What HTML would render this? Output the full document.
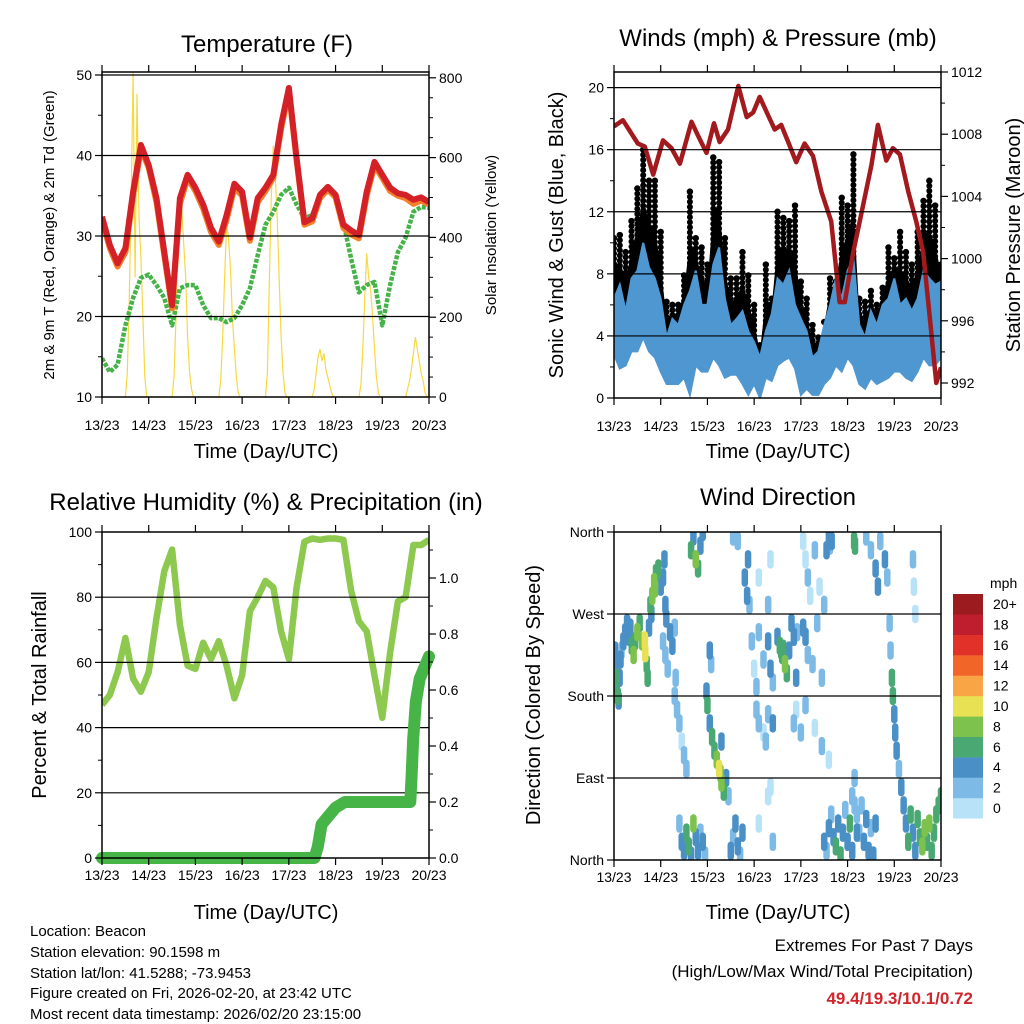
<!DOCTYPE html>
<html><head><meta charset="utf-8"><style>
html,body{margin:0;padding:0;background:#fff;}
svg{display:block;font-family:"Liberation Sans",sans-serif;}
</style></head><body>
<svg id="chart" width="1024" height="1024" viewBox="0 0 1024 1024" xmlns="http://www.w3.org/2000/svg">
<rect width="1024" height="1024" fill="#fff"/>
<text x="267" y="52" font-size="24" text-anchor="middle">Temperature (F)</text>
<text x="778" y="46" font-size="24" text-anchor="middle">Winds (mph) &amp; Pressure (mb)</text>
<text x="266" y="510" font-size="24" text-anchor="middle">Relative Humidity (%) &amp; Precipitation (in)</text>
<text x="778" y="505" font-size="24" text-anchor="middle">Wind Direction</text>
<text x="266" y="458" font-size="20" text-anchor="middle">Time (Day/UTC)</text>
<text x="778" y="458" font-size="20" text-anchor="middle">Time (Day/UTC)</text>
<text x="266" y="919" font-size="20" text-anchor="middle">Time (Day/UTC)</text>
<text x="778" y="919" font-size="20" text-anchor="middle">Time (Day/UTC)</text>
<text transform="translate(54,235) rotate(-90)" font-size="15" text-anchor="middle">2m &amp; 9m T (Red, Orange) &amp; 2m Td (Green)</text>
<text transform="translate(496,235) rotate(-90)" font-size="15" text-anchor="middle">Solar Insolation (Yellow)</text>
<text transform="translate(563,235) rotate(-90)" font-size="20" text-anchor="middle">Sonic Wind &amp; Gust (Blue, Black)</text>
<text transform="translate(1020,235) rotate(-90)" font-size="20" text-anchor="middle">Station Pressure (Maroon)</text>
<text transform="translate(46,695) rotate(-90)" font-size="20" text-anchor="middle">Percent &amp; Total Rainfall</text>
<text transform="translate(540,695) rotate(-90)" font-size="20" text-anchor="middle">Direction (Colored By Speed)</text>
<g font-size="15">
<text x="30" y="936">Location: Beacon</text>
<text x="30" y="957">Station elevation: 90.1598 m</text>
<text x="30" y="978">Station lat/lon: 41.5288; -73.9453</text>
<text x="30" y="998">Figure created on Fri, 2026-02-20, at 23:42 UTC</text>
<text x="30" y="1019">Most recent data timestamp: 2026/02/20 23:15:00</text>
</g>
<g text-anchor="end">
<text x="973" y="951" font-size="17">Extremes For Past 7 Days</text>
<text x="973" y="977" font-size="17">(High/Low/Max Wind/Total Precipitation)</text>
<text x="973" y="1004" font-size="17" font-weight="bold" fill="#d0262b">49.4/19.3/10.1/0.72</text>
</g>
</svg>
<script>
// ---- data ----
const dayLabels = ["13/23","14/23","15/23","16/23","17/23","18/23","19/23","20/23"];
// 4-hour step temperature (F)
const temp2m = [32.4,28.9,26.6,28.5,35.5,41.3,38.8,34.7,28,21.4,34.7,37.6,36,33.9,31,29.3,32.6,36.5,35.5,29.8,34.7,36,37.6,43.8,48.4,39.7,31.7,32.2,35.1,36.1,35.1,31.4,30.7,30.1,35.5,39.2,37.6,36,35.3,35.1,34.5,34.8,34.2];
const temp9m = [32,28.5,26.2,28,35,40.8,38.5,34.2,27.6,21,34,37.2,35.6,33.4,30.5,28.9,32,36,35,29.4,34.2,35.6,37.2,43.3,48,39.4,31.4,31.8,34.7,35.8,34.8,31,30.2,29.7,35,38.8,37.2,35.6,35,34.7,34,34.4,33.9];
const dewpoint = [14.8,13.1,14,18.9,22.3,24.8,25.2,23.9,22.3,18.9,23.5,23.9,23.9,21.4,19.8,19.8,19.3,19.8,21.4,23.5,27.6,31.4,33,35.1,36,33.9,32.2,32.6,35.1,35.5,35.1,31.7,27.2,23,23.9,24.3,18.9,23.9,28,29.8,33,33.6,33.5];
// hourly solar insolation, hours 12..23 UTC for each day
const solarDays = [
 [0,60,250,500,815,300,760,450,350,200,50,0],
 [0,50,200,420,510,470,380,300,150,60,20,0],
 [0,40,150,300,430,400,320,200,120,50,10,0],
 [0,60,300,500,630,560,450,300,150,60,10,0],
 [0,20,60,100,120,90,110,70,50,30,10,0],
 [0,30,120,250,360,300,270,200,120,50,10,0],
 [0,20,40,70,110,150,120,90,60,40,10,0]];
// 3-hour step wind (mph)
const gustMax = [10.3,10.5,9.4,11.4,13.5,16,14,14,10.7,6.2,6,6,7.9,13.3,10.3,9.7,8.6,15.5,15.2,10.3,7.7,7.7,9.4,7.9,6,3.4,8.6,6.4,12,11.6,11.4,12.4,7.5,6.4,4.7,3.9,4.9,7.7,7.5,12.9,12.4,15.7,6.4,6.2,6.9,6,7.1,9.7,9,10.7,9.4,8.6,10.7,12.7,14,12.4,8.6];
const windHigh = [6.4,7.3,5.6,7.7,8.2,10,8.4,7.7,6.4,3.9,5.1,4.7,6,6.9,8.2,6,6,8.6,9.7,6.4,4.7,5.1,5.6,4.3,3.6,2.6,4.3,5.4,7.7,7.3,8.2,6,5.1,4.3,2.6,3,4.7,6,7.7,6.4,8.2,9,4.7,3.9,5.6,4.7,6,6.4,7.7,6,6.4,5.6,6.4,8.2,7.7,7.3,7.5];
const windLow = [2.8,1.9,2.1,3,3,3.9,3,2.6,1.7,0.9,0.9,0.9,1.3,0.2,2.1,1.7,1.7,2.6,2.1,1.3,1.5,1.5,0.9,0.2,0.9,0,1.3,1.1,2.1,2.4,2.6,1.9,0.2,0.6,0.2,0.2,0.9,1.3,2.1,1.7,2.6,2.1,0.9,0.6,1.3,0.9,1.1,1.3,1.7,1.7,1.3,1.1,1.7,2.6,2.1,2.1,2.6];
const presDays = [0,0.19,0.34,0.51,0.66,0.84,1.05,1.23,1.41,1.66,1.8,1.98,2.14,2.26,2.44,2.66,2.84,2.98,3.12,3.3,3.44,3.58,3.73,3.9,4.08,4.26,4.44,4.65,4.83,4.94,5.12,5.33,5.51,5.65,5.83,5.97,6.12,6.3,6.47,6.62,6.76,6.9,7.0];
const pressure = [1008.5,1008.9,1008.2,1007.4,1007.2,1005.4,1007.6,1007.1,1006.1,1008.8,1007.9,1006.8,1008.7,1007.5,1008.3,1011.1,1009.1,1009.4,1010.4,1009.2,1008.3,1008.6,1007.5,1006.2,1007.4,1006.6,1004.3,1002.4,997.2,997.2,1000.4,1003.4,1006,1008.6,1006.3,1007.1,1006.7,1004.3,1002.4,1000.4,996.2,992,993];
// 4-hour step relative humidity (%)
const rh = [47,50,57,67.5,55,51,57,73.6,88,94.6,71.6,59,58,66,61,66.5,59,49,56,75.7,80,85,83,69.5,61,83,97,98,97.6,98,98,97.6,82,72.6,69.5,56,43,63,78.7,80,96,96,97.6];
const precipDays = [0,4.55,4.62,4.7,4.8,5.0,5.2,6.6,6.63,6.66,6.72,6.8,6.9,7.0];
const precip = [0,0,0.04,0.12,0.14,0.18,0.2,0.2,0.3,0.42,0.56,0.64,0.68,0.72];
// wind direction samples
const dirDays = [0.02,0.03,0.05,0.06,0.08,0.1,0.12,0.14,0.16,0.2,0.24,0.28,0.32,0.35,0.38,0.42,0.45,0.5,0.55,0.6,0.66,0.67,0.7,0.72,0.75,0.8,0.78,0.82,0.86,0.88,0.9,0.95,1.0,1.05,1.08,1.1,1.12,1.05,1.1,1.15,1.2,1.25,1.3,1.32,1.3,1.35,1.4,1.45,1.5,1.55,1.4,1.45,1.5,1.55,1.6,1.65,1.7,1.75,1.8,1.85,1.9,1.95,1.65,1.7,1.75,1.8,1.85,1.9,1.98,2.0,2.05,2.1,2.15,2.2,2.25,2.28,2.3,2.35,2.4,2.45,2.3,2.05,2.08,2.5,2.55,2.6,2.65,2.7,2.75,2.55,2.65,2.8,2.85,2.9,2.87,2.95,3.0,3.05,3.1,3.2,3.3,3.35,3.4,3.05,3.1,3.2,3.25,3.3,3.4,3.1,3.3,3.4,3.35,3.1,3.3,3.35,3.5,3.55,3.58,3.6,3.62,3.66,3.7,3.75,3.8,3.85,3.9,3.92,3.85,3.9,4.0,4.05,4.1,4.15,4.2,4.3,4.4,4.5,4.55,4.6,4.62,4.66,4.05,4.1,4.15,4.25,4.35,4.45,4.1,4.3,4.45,4.6,4.5,4.55,4.6,4.65,4.7,4.75,4.8,4.85,4.9,4.95,5.0,5.05,5.1,5.15,5.2,5.1,5.15,5.2,5.25,5.3,5.35,5.4,5.45,5.5,5.55,5.6,5.14,5.16,5.4,5.5,5.6,5.65,5.7,5.8,5.85,5.9,5.92,5.95,5.97,6.0,6.02,6.05,6.1,6.15,6.2,6.25,6.3,6.35,6.4,6.45,6.5,6.55,6.6,6.65,6.7,6.75,6.8,6.85,6.9,6.95,7.0,6.4,6.42,6.45];
const dirDeg = [230,215,200,190,180,175,200,220,230,240,250,260,245,255,235,225,240,250,260,240,241,227,215,200,255,270,280,290,305,298,315,320,300,310,330,280,265,240,225,210,250,235,255,200,180,165,150,130,115,100,40,20,10,30,15,5,40,25,10,30,20,5,340,355,330,320,345,360,185,170,150,135,120,110,100,95,85,75,90,70,130,230,215,10,25,40,15,5,30,355,350,310,290,280,330,240,210,190,250,220,240,210,195,165,150,140,130,160,150,40,70,20,80,310,280,330,245,235,230,225,232,215,205,230,260,245,200,250,150,165,140,350,330,310,290,340,300,280,340,355,345,350,255,245,225,215,260,200,170,145,125,110,20,10,35,50,25,15,40,5,30,55,20,40,10,60,30,70,90,50,30,60,20,45,10,35,5,40,350,345,355,340,320,300,350,330,310,260,230,200,180,160,140,120,100,80,60,40,20,50,30,10,45,25,15,35,20,40,10,30,50,60,70,330,300,270];
const dirSpeed = [4,4,6,4,6,4,4,4,2,4,4,4,4,4,6,8,6,8,6,8,10,10,6,6,4,4,6,8,8,8,6,6,4,4,4,4,4,2,2,2,4,4,2,2,2,2,2,0,2,2,2,4,4,6,6,4,8,4,4,2,4,2,6,4,8,6,4,4,4,6,4,6,6,8,10,8,8,6,4,2,4,4,2,4,2,4,4,2,4,2,2,4,4,2,4,2,0,2,2,2,4,4,2,2,2,0,2,2,4,0,0,2,0,0,2,0,4,6,6,6,6,8,6,4,4,4,4,2,2,0,2,0,0,2,0,2,0,2,4,4,2,4,4,4,2,2,2,2,2,0,2,0,4,2,4,2,4,6,4,6,4,2,4,6,4,2,4,2,2,2,2,2,4,4,4,2,4,4,6,6,2,2,4,4,2,4,2,2,2,6,6,4,4,4,2,4,4,4,6,6,4,4,6,6,8,8,6,8,6,6,6,6,6,2,0,0];
const speedLabels = ["0","2","4","6","8","10","12","14","16","18","20+"];
const speedColors = ["#b8e2f7","#7dbbe6","#4a90c7","#4aa872","#7dc24c","#e8e154","#f9a546","#f26529","#e03228","#be1e2d","#9b1b1e"];

// ---- drawing ----
const NS = "http://www.w3.org/2000/svg";
const svg = document.getElementById('chart');
function el(tag, attrs, parent){
  const e = document.createElementNS(NS, tag);
  for (const k in attrs) e.setAttribute(k, attrs[k]);
  (parent || svg).appendChild(e);
  return e;
}
function pts(arr){ return arr.map(p => p[0].toFixed(1)+","+p[1].toFixed(1)).join(" "); }

function makePanel(name, x0, x1, y0, y1){
  const g = el('g', {});
  
  
  const clip = el('clipPath', {id: name+'-clip'}, g);
  el('rect', {x:x0, y:y0, width:x1-x0, height:y1-y0}, clip);
  const plot = el('g', {'clip-path':'url(#'+name+'-clip)'}, g);
  return {g, plot, x0, x1, y0, y1, tx: d => x0 + d*(x1-x0)/7};
}
function frame(P, name, labOff){
  const r = el('rect', {x:P.x0, y:P.y0, width:P.x1-P.x0, height:P.y1-P.y0, fill:'none', stroke:'#000', 'stroke-width':1.5}, P.g);
  
  
  for (let i=0;i<dayLabels.length;i++){
    const x = P.tx(i);
    el('line', {x1:x, x2:x, y1:P.y1, y2:P.y1+7, stroke:'#000', 'stroke-width':1.2}, P.g);
    el('line', {x1:x, x2:x, y1:P.y0, y2:P.y0-7, stroke:'#000', 'stroke-width':1.2}, P.g);
    const t = el('text', {x:x, y:P.y1+labOff, 'font-size':14, 'text-anchor':'middle'}, P.g);
    
    
    t.textContent = dayLabels[i];
  }
}
function grid(P, ys){
  ys.forEach(y => el('line', {x1:P.x0, x2:P.x1, y1:y, y2:y, stroke:'#000', 'stroke-width':1.2}, P.g));
}
function yAxis(P, side, vals, fy, labels, minorVals, name){
  const x = side==='left' ? P.x0 : P.x1;
  const dir = side==='left' ? -1 : 1;
  vals.forEach((v,i) => {
    const y = fy(v);
    el('line', {x1:x, x2:x+dir*7, y1:y, y2:y, stroke:'#000', 'stroke-width':1.2}, P.g);
    const t = el('text', {x:x+dir*10, y:y+5, 'font-size':14, 'text-anchor': side==='left'?'end':'start'}, P.g);
    
    
    t.textContent = labels[i];
  });
  (minorVals||[]).forEach(v => {
    const y = fy(v);
    el('line', {x1:x, x2:x+dir*4, y1:y, y2:y, stroke:'#000', 'stroke-width':1}, P.g);
  });
}

// Panel 1: temperature
const P1 = makePanel('temperature-panel', 102, 429, 72, 397);
const tY = v => 397 - (v-10)*8.05;
const sY = w => 397 - w*0.399;
grid(P1, [20,30,40,50].map(tY));
const solarPts = [];
solarDays.forEach((day, d) => {
  solarPts.push([P1.tx(d + 11/24), sY(0)]);
  day.forEach((w, h) => solarPts.push([P1.tx(d + (12+h)/24), sY(w)]));
});
const solarLine = el('polyline', {points:pts(solarPts), fill:'none', stroke:'#f7d843', 'stroke-width':1.2}, P1.plot);


const t4 = i => P1.tx(i*4/24);
const dewLine = el('polyline', {points:pts(dewpoint.map((v,i)=>[t4(i), tY(v)])), fill:'none', stroke:'#45b348', 'stroke-width':4.5, 'stroke-dasharray':'4 1.5', 'stroke-linejoin':'round'}, P1.plot);


const orLine = el('polyline', {points:pts(temp9m.map((v,i)=>[t4(i), tY(v)])), fill:'none', stroke:'#f4812a', 'stroke-width':6, 'stroke-linejoin':'round'}, P1.plot);


const redLine = el('polyline', {points:pts(temp2m.map((v,i)=>[t4(i), tY(v)])), fill:'none', stroke:'#d42027', 'stroke-width':6, 'stroke-linejoin':'round'}, P1.plot);


frame(P1, 'temperature', 33);
yAxis(P1, 'left', [10,20,30,40,50], tY, ["10","20","30","40","50"], [15,25,35,45], 'temp-y');
yAxis(P1, 'right', [0,200,400,600,800], sY, ["0","200","400","600","800"], [50,100,150,250,300,350,450,500,550,650,700,750], 'solar-y');

// Panel 2: winds
const P2 = makePanel('winds-panel', 614, 941, 72, 398);
const wY = v => 398 - v*15.52;
const pY = p => 383 - (p-992)*15.55;
const t3 = i => P2.tx(i*3/24);
const blackPts = gustMax.map((v,i)=>[t3(i), wY((v+windHigh[i])/2)]).concat(windHigh.map((v,i)=>[t3(i), wY((v+windLow[i])/2)]).reverse());
const gustBand = el('polygon', {points:pts(blackPts), fill:'#000'}, P2.plot);


gustMax.forEach((v,i) => {
  const c = el('circle', {cx:t3(i), cy:wY(v), r:3.2, fill:'#000'}, P2.plot);
  
  
  const s = el('line', {x1:t3(i), x2:t3(i), y1:wY(v), y2:wY(windHigh[i]), stroke:'#000', 'stroke-width':6, 'stroke-linecap':'round', 'stroke-dasharray':'0.1 5'}, P2.plot);
  
  
});
const bluePts = windHigh.map((v,i)=>[t3(i), wY(v)]).concat(windLow.map((v,i)=>[t3(i), wY(v)]).reverse());
const windBand = el('polygon', {points:pts(bluePts), fill:'#4f97d1', stroke:'#4f97d1', 'stroke-width':2}, P2.plot);


const presLine = el('polyline', {points:pts(pressure.map((v,i)=>[P2.tx(presDays[i]), pY(v)])), fill:'none', stroke:'#a31a1e', 'stroke-width':4.5, 'stroke-linejoin':'round'}, P2.plot);


grid(P2, [4,8,12,16,20].map(wY));
frame(P2, 'winds', 33);
yAxis(P2, 'left', [0,4,8,12,16,20], wY, ["0","4","8","12","16","20"], [2,6,10,14,18], 'wind-y');
yAxis(P2, 'right', [992,996,1000,1004,1008,1012], pY, ["992","996","1000","1004","1008","1012"], [994,998,1002,1006,1010], 'pressure-y');

// Panel 3: humidity
const P3 = makePanel('humidity-panel', 102, 429, 532, 858);
const hY = v => 858 - v*3.26;
const rY = v => 858 - v*280;
grid(P3, [20,40,60,80].map(hY));
const rhLine = el('polyline', {points:pts(rh.map((v,i)=>[t4(i), hY(v)])), fill:'none', stroke:'#8dc84f', 'stroke-width':6.5, 'stroke-linejoin':'round'}, P3.plot);


const prLine = el('polyline', {points:pts(precip.map((v,i)=>[P3.tx(precipDays[i]), rY(v)])), fill:'none', stroke:'#47b447', 'stroke-width':12, 'stroke-linejoin':'round', 'stroke-linecap':'round'}, P3.g);


frame(P3, 'humidity', 22);
yAxis(P3, 'left', [0,20,40,60,80,100], hY, ["0","20","40","60","80","100"], [10,30,50,70,90], 'rh-y');
yAxis(P3, 'right', [0,0.2,0.4,0.6,0.8,1.0], rY, ["0.0","0.2","0.4","0.6","0.8","1.0"], [0.1,0.3,0.5,0.7,0.9,1.1], 'precip-y');

// Panel 4: wind direction
const P4 = makePanel('direction-panel', 614, 941, 532, 860);
const dY = d => 860 - d*328/360;
grid(P4, [90,180,270].map(dY));
const order = dirDays.map((d,i)=>i).sort((a,b)=>dirSpeed[a]-dirSpeed[b]);
order.forEach(i => {
  const x = P4.tx(dirDays[i]), y = dY(dirDeg[i]);
  const c = el('line', {x1:x, x2:x, y1:y-6, y2:y+6, stroke:speedColors[Math.min(10, Math.floor(dirSpeed[i]/2))], 'stroke-width':6.5, 'stroke-linecap':'round'}, P4.plot);
  
  
});
frame(P4, 'direction', 22);
yAxis(P4, 'left', [0,90,180,270,360], dY, ["North","East","South","West","North"], [], 'dir-y');

// Colorbar
const cb = el('g', {});


const mph = el('text', {x:990, y:588, 'font-size':14}, cb);


mph.textContent = 'mph';
speedLabels.forEach((lab, i) => {
  const y = 594 + (10-i)*20.4;
  const r = el('rect', {x:953, y:y, width:30, height:20.6, fill:speedColors[i]}, cb);
  
  
  const t = el('text', {x:993, y:y+15, 'font-size':14}, cb);
  
  
  t.textContent = lab;
});
</script>
</body></html>
